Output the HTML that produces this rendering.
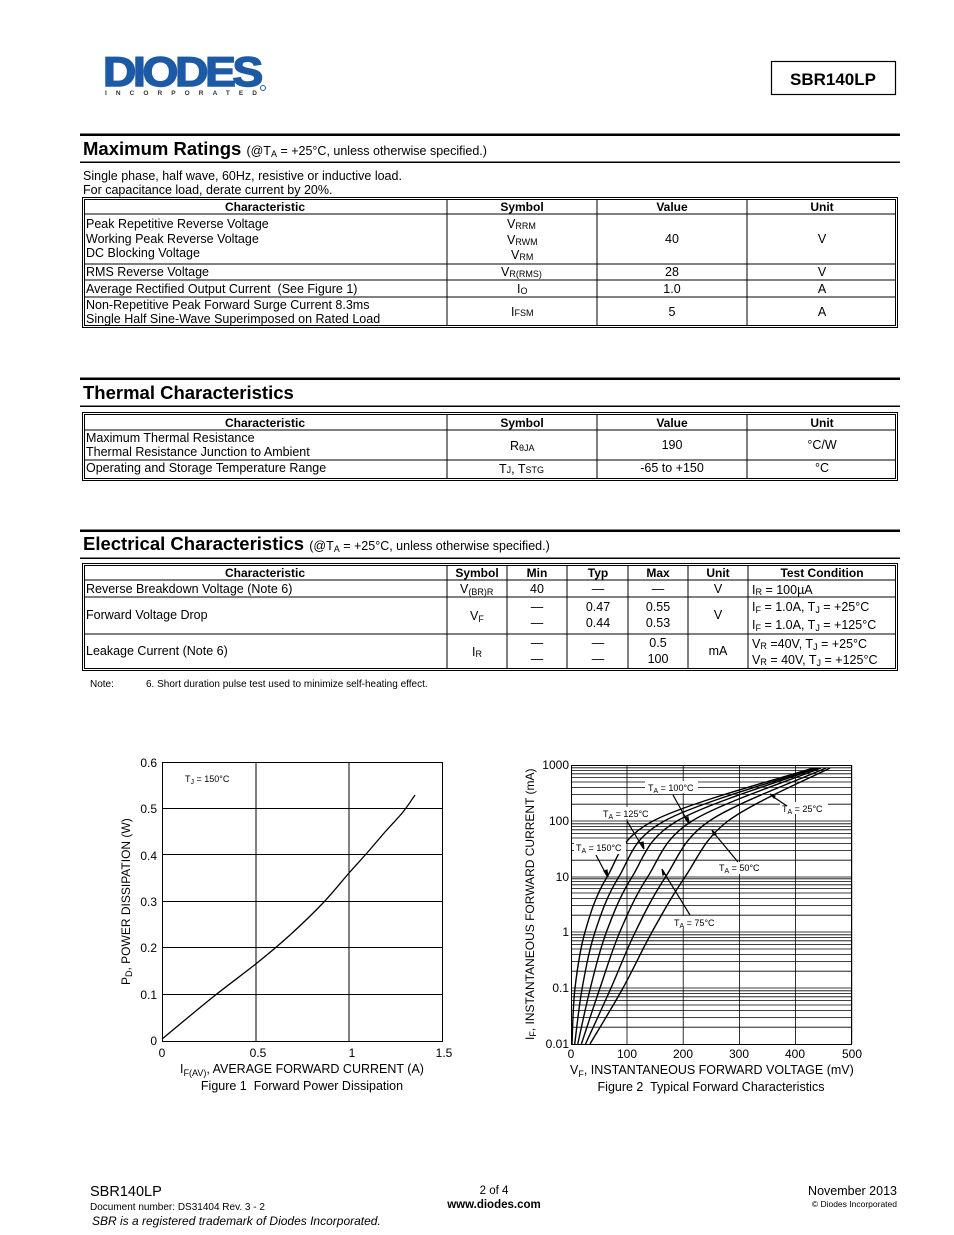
<!DOCTYPE html>
<html><head><meta charset="utf-8"><style>
html,body{margin:0;padding:0;background:#fff}
svg{display:block}
text{font-family:"Liberation Sans",Arial,sans-serif;fill:#000}
.t{font-size:12.5px}
.h{font-size:12px;font-weight:bold}
.s{font-size:9px}
</style></head><body>
<svg id="s" width="954" height="1235" viewBox="0 0 954 1235" xmlns="http://www.w3.org/2000/svg">
<!-- logo -->
<text x="103" y="86" font-size="42" font-weight="bold" style="fill:#1d5aa6;stroke:#1d5aa6;stroke-width:1.5;letter-spacing:-3px" textLength="157" lengthAdjust="spacingAndGlyphs">DIODES</text>
<text x="105" y="95" font-size="6.5" font-weight="bold" style="fill:#333" textLength="152" lengthAdjust="spacing">INCORPORATED</text>
<circle cx="263" cy="88" r="2.5" fill="none" stroke="#1d5aa6" stroke-width="1"/>
<rect x="771.5" y="61.5" width="124" height="33" fill="none" stroke="#000" stroke-width="1.2"/>
<text x="833" y="85" font-size="17" font-weight="bold" text-anchor="middle">SBR140LP</text>

<!-- Max ratings -->
<rect x="80" y="133.5" width="820" height="2.5"/>
<text x="83" y="155" font-size="18.5" font-weight="bold">Maximum Ratings <tspan font-size="12.5" font-weight="normal">(@T<tspan font-size="9" dy="2">A</tspan><tspan dy="-2"> = +25°C, unless otherwise specified.)</tspan></tspan></text>
<rect x="80" y="161.5" width="820" height="1.5"/>
<text class="t" x="83" y="180">Single phase, half wave, 60Hz, resistive or inductive load.</text>
<text class="t" x="83" y="194">For capacitance load, derate current by 20%.</text>
<g fill="none" stroke="#000">
<rect x="82.5" y="197.5" width="815" height="130" stroke-width="1"/>
<rect x="84.5" y="199.5" width="811" height="126" stroke-width="1"/>
<path d="M447 199V326M597 199V326M747 199V326M84 214H896M84 264H896M84 280H896M84 297H896" stroke-width="1"/>
</g>
<text class="h" x="265" y="211" text-anchor="middle">Characteristic</text>
<text class="h" x="522" y="211" text-anchor="middle">Symbol</text>
<text class="h" x="672" y="211" text-anchor="middle">Value</text>
<text class="h" x="822" y="211" text-anchor="middle">Unit</text>
<text class="t" x="86" y="228">Peak Repetitive Reverse Voltage</text>
<text class="t" x="86" y="243">Working Peak Reverse Voltage</text>
<text class="t" x="86" y="257">DC Blocking Voltage</text>
<text class="t" x="507" y="228">V<tspan class="s" dy="1">RRM</tspan></text>
<text class="t" x="507" y="244">V<tspan class="s" dy="1">RWM</tspan></text>
<text class="t" x="511" y="259">V<tspan class="s" dy="1">RM</tspan></text>
<text class="t" x="672" y="243" text-anchor="middle">40</text>
<text class="t" x="822" y="243" text-anchor="middle">V</text>
<text class="t" x="86" y="276">RMS Reverse Voltage</text>
<text class="t" x="501" y="276">V<tspan class="s" dy="1">R(RMS)</tspan></text>
<text class="t" x="672" y="276" text-anchor="middle">28</text>
<text class="t" x="822" y="276" text-anchor="middle">V</text>
<text class="t" x="86" y="293" xml:space="preserve">Average Rectified Output Current  (See Figure 1)</text>
<text class="t" x="517" y="293">I<tspan class="s" dy="1">O</tspan></text>
<text class="t" x="672" y="293" text-anchor="middle">1.0</text>
<text class="t" x="822" y="293" text-anchor="middle">A</text>
<text class="t" x="86" y="309">Non-Repetitive Peak Forward Surge Current 8.3ms</text>
<text class="t" x="86" y="323">Single Half Sine-Wave Superimposed on Rated Load</text>
<text class="t" x="511" y="316">I<tspan class="s">FSM</tspan></text>
<text class="t" x="672" y="316" text-anchor="middle">5</text>
<text class="t" x="822" y="316" text-anchor="middle">A</text>

<!-- Thermal -->
<rect x="80" y="377.5" width="820" height="2.5"/>
<text x="83" y="399" font-size="18.5" font-weight="bold">Thermal Characteristics</text>
<rect x="80" y="405.5" width="820" height="1.5"/>
<g fill="none" stroke="#000">
<rect x="82.5" y="412.5" width="815" height="68"/>
<rect x="84.5" y="414.5" width="811" height="64"/>
<path d="M447 414V479M597 414V479M747 414V479M84 430H896M84 460H896"/>
</g>
<text class="h" x="265" y="427" text-anchor="middle">Characteristic</text>
<text class="h" x="522" y="427" text-anchor="middle">Symbol</text>
<text class="h" x="672" y="427" text-anchor="middle">Value</text>
<text class="h" x="822" y="427" text-anchor="middle">Unit</text>
<text class="t" x="86" y="442">Maximum Thermal Resistance</text>
<text class="t" x="86" y="456">Thermal Resistance Junction to Ambient</text>
<text class="t" x="510" y="450">R<tspan class="s" dy="1">θJA</tspan></text>
<text class="t" x="672" y="449" text-anchor="middle">190</text>
<text class="t" x="822" y="449" text-anchor="middle">°C/W</text>
<text class="t" x="86" y="472">Operating and Storage Temperature Range</text>
<text class="t" x="499" y="473">T<tspan class="s" dy="0">J</tspan>, T<tspan class="s">STG</tspan></text>
<text class="t" x="672" y="472" text-anchor="middle">-65 to +150</text>
<text class="t" x="822" y="472" text-anchor="middle">°C</text>

<!-- Electrical -->
<rect x="80" y="529.5" width="820" height="2.5"/>
<text x="83" y="550" font-size="18.5" font-weight="bold">Electrical Characteristics <tspan font-size="12.5" font-weight="normal">(@T<tspan font-size="9" dy="2">A</tspan><tspan dy="-2"> = +25°C, unless otherwise specified.)</tspan></tspan></text>
<rect x="80" y="557.5" width="820" height="1.5"/>
<g fill="none" stroke="#000">
<rect x="82.5" y="563.5" width="815" height="107"/>
<rect x="84.5" y="565.5" width="811" height="103"/>
<path d="M447 565V669M507 565V669M567 565V669M628 565V669M688 565V669M748 565V669M84 580H896M84 597H896M84 634H896"/>
</g>
<text class="h" x="265" y="577" text-anchor="middle">Characteristic</text>
<text class="h" x="477" y="577" text-anchor="middle">Symbol</text>
<text class="h" x="537" y="577" text-anchor="middle">Min</text>
<text class="h" x="598" y="577" text-anchor="middle">Typ</text>
<text class="h" x="658" y="577" text-anchor="middle">Max</text>
<text class="h" x="718" y="577" text-anchor="middle">Unit</text>
<text class="h" x="822" y="577" text-anchor="middle">Test Condition</text>
<text class="t" x="86" y="593">Reverse Breakdown Voltage (Note 6)</text>
<text class="t" x="460" y="593">V<tspan class="s" dy="2">(BR)R</tspan></text>
<text class="t" x="537" y="593" text-anchor="middle">40</text>
<text class="t" x="598" y="593" text-anchor="middle">—</text>
<text class="t" x="658" y="593" text-anchor="middle">—</text>
<text class="t" x="718" y="593" text-anchor="middle">V</text>
<text class="t" x="752" y="594">I<tspan class="s" dy="1">R</tspan><tspan dy="-1"> = 100µA</tspan></text>
<text class="t" x="86" y="619">Forward Voltage Drop</text>
<text class="t" x="470" y="620">V<tspan class="s" dy="2">F</tspan></text>
<text class="t" x="537" y="611" text-anchor="middle">—</text>
<text class="t" x="537" y="627" text-anchor="middle">—</text>
<text class="t" x="598" y="611" text-anchor="middle">0.47</text>
<text class="t" x="598" y="627" text-anchor="middle">0.44</text>
<text class="t" x="658" y="611" text-anchor="middle">0.55</text>
<text class="t" x="658" y="627" text-anchor="middle">0.53</text>
<text class="t" x="718" y="619" text-anchor="middle">V</text>
<text class="t" x="752" y="611">I<tspan class="s" dy="2">F</tspan><tspan dy="-2"> = 1.0A, T</tspan><tspan class="s" dy="2">J</tspan><tspan dy="-2"> = +25°C</tspan></text>
<text class="t" x="752" y="629">I<tspan class="s" dy="2">F</tspan><tspan dy="-2"> = 1.0A, T</tspan><tspan class="s" dy="2">J</tspan><tspan dy="-2"> = +125°C</tspan></text>
<text class="t" x="86" y="655">Leakage Current (Note 6)</text>
<text class="t" x="472" y="656">I<tspan class="s" dy="1">R</tspan></text>
<text class="t" x="537" y="647" text-anchor="middle">—</text>
<text class="t" x="537" y="663" text-anchor="middle">—</text>
<text class="t" x="598" y="647" text-anchor="middle">—</text>
<text class="t" x="598" y="663" text-anchor="middle">—</text>
<text class="t" x="658" y="647" text-anchor="middle">0.5</text>
<text class="t" x="658" y="663" text-anchor="middle">100</text>
<text class="t" x="718" y="655" text-anchor="middle">mA</text>
<text class="t" x="752" y="648">V<tspan class="s" dy="1">R</tspan><tspan dy="-1"> =40V, T</tspan><tspan class="s" dy="2">J</tspan><tspan dy="-2"> = +25°C</tspan></text>
<text class="t" x="752" y="664">V<tspan class="s" dy="1">R</tspan><tspan dy="-1"> = 40V, T</tspan><tspan class="s" dy="2">J</tspan><tspan dy="-2"> = +125°C</tspan></text>
<text x="90" y="687" font-size="10">Note:</text>
<text x="146" y="687" font-size="10">6. Short duration pulse test used to minimize self-heating effect.</text>

<!-- Figure 1 -->
<g id="g1" fill="none" stroke="#000" stroke-width="1">
<rect x="162.5" y="762.5" width="280" height="279"/>
<path d="M256 762V1041M349 762V1041M162 808.5H442M162 854.5H442M162 901.5H442M162 947.5H442M162 994.5H442"/>
</g>
<text x="185" y="782" font-size="9">T<tspan font-size="7" dy="2">J</tspan><tspan dy="-2"> = 150°C</tspan></text>
<g font-size="12" text-anchor="end">
<text x="157" y="767">0.6</text><text x="157" y="813">0.5</text><text x="157" y="860">0.4</text><text x="157" y="906">0.3</text><text x="157" y="952">0.2</text><text x="157" y="999">0.1</text><text x="157" y="1045">0</text>
</g>
<g font-size="12" text-anchor="middle">
<text x="162" y="1057">0</text><text x="258" y="1057">0.5</text><text x="352" y="1057">1</text><text x="444" y="1057">1.5</text>
</g>
<text x="130" y="985" font-size="12" transform="rotate(-90 130 985)">P<tspan font-size="9" dy="2">D</tspan><tspan dy="-2">, POWER DISSIPATION (W)</tspan></text>
<text x="180" y="1073" font-size="12.5">I<tspan font-size="9" dy="3">F(AV)</tspan><tspan dy="-3">, AVERAGE FORWARD CURRENT (A)</tspan></text>
<text x="302" y="1090" font-size="12.5" text-anchor="middle" xml:space="preserve">Figure 1  Forward Power Dissipation</text>

<!-- Figure 2 -->
<g id="g2" fill="none" stroke="#000" stroke-width="1"></g>
<rect x="571.5" y="765.5" width="280" height="279" fill="none" stroke="#000"/>
<g font-size="12" text-anchor="end">
<text x="569" y="769">1000</text><text x="569" y="825">100</text><text x="569" y="881">10</text><text x="569" y="936">1</text><text x="569" y="992">0.1</text><text x="569" y="1048">0.01</text>
</g>
<g font-size="12" text-anchor="middle">
<text x="571" y="1058">0</text><text x="627" y="1058">100</text><text x="683" y="1058">200</text><text x="739" y="1058">300</text><text x="795" y="1058">400</text><text x="852" y="1058">500</text>
</g>
<text x="534" y="1040" font-size="12" transform="rotate(-90 534 1040)">I<tspan font-size="9" dy="2">F</tspan><tspan dy="-2">, INSTANTANEOUS FORWARD CURRENT (mA)</tspan></text>
<text x="570" y="1074" font-size="12.5">V<tspan font-size="9" dy="3">F</tspan><tspan dy="-3">, INSTANTANEOUS FORWARD VOLTAGE (mV)</tspan></text>
<text x="711" y="1091" font-size="12.5" text-anchor="middle" xml:space="preserve">Figure 2  Typical Forward Characteristics</text>
<g font-size="9">
<rect x="645" y="781" width="53" height="12" fill="#fff"/><text x="648" y="791">T<tspan font-size="7" dy="2">A</tspan><tspan dy="-2"> = 100°C</tspan></text>
<rect x="601" y="807" width="52" height="12" fill="#fff"/><text x="603" y="817">T<tspan font-size="7" dy="2">A</tspan><tspan dy="-2"> = 125°C</tspan></text>
<rect x="574" y="842" width="52" height="12" fill="#fff"/><text x="576" y="851">T<tspan font-size="7" dy="2">A</tspan><tspan dy="-2"> = 150°C</tspan></text>
<rect x="780" y="802" width="48" height="12" fill="#fff"/><text x="782" y="812">T<tspan font-size="7" dy="2">A</tspan><tspan dy="-2"> = 25°C</tspan></text>
<rect x="717" y="862" width="48" height="12" fill="#fff"/><text x="719" y="871">T<tspan font-size="7" dy="2">A</tspan><tspan dy="-2"> = 50°C</tspan></text>
<rect x="672" y="916" width="48" height="12" fill="#fff"/><text x="674" y="926">T<tspan font-size="7" dy="2">A</tspan><tspan dy="-2"> = 75°C</tspan></text>
</g>
<g stroke="#000" stroke-width="1.2" fill="#000">
<path d="M673 795L688 822"/><path d="M685 818l4 6 -1-7z"/>
<path d="M627 821L643 848"/><path d="M640 843l4 6 -1-7z"/>
<path d="M596 855L607 876"/><path d="M604 871l4 6 -1-7z"/>
<path d="M787 806L772 796"/><path d="M775 796l-5-2 4 4z"/>
<path d="M738 862L713 832"/><path d="M716 834l-4-4 2 5z"/>
<path d="M690 915L663 871"/><path d="M665 874l-3-5 1 6z"/>
</g>

<!-- footer -->
<text x="90" y="1196" font-size="14.5">SBR140LP</text>
<text x="90" y="1210" font-size="10">Document number: DS31404 Rev. 3 - 2</text>
<text x="92" y="1225" font-size="12" font-style="italic">SBR is a registered trademark of Diodes Incorporated.</text>
<text x="494" y="1194" font-size="11.5" text-anchor="middle">2 of 4</text>
<text x="494" y="1208" font-size="11.5" font-weight="bold" text-anchor="middle">www.diodes.com</text>
<text x="897" y="1195" font-size="12.5" text-anchor="end">November 2013</text>
<text x="897" y="1207" font-size="8.5" text-anchor="end">© Diodes Incorporated</text>
</svg>
<script>
(function(){
var ns='http://www.w3.org/2000/svg';
function cr(pts){
 var s='M'+pts[0][0]+' '+pts[0][1],n=pts.length;
 for(var i=0;i<n-1;i++){var p0=pts[Math.max(i-1,0)],p1=pts[i],p2=pts[i+1],p3=pts[Math.min(i+2,n-1)];
  s+=' C'+(p1[0]+(p2[0]-p0[0])/6).toFixed(1)+' '+(p1[1]+(p2[1]-p0[1])/6).toFixed(1)+' '+(p2[0]-(p3[0]-p1[0])/6).toFixed(1)+' '+(p2[1]-(p3[1]-p1[1])/6).toFixed(1)+' '+p2[0].toFixed(1)+' '+p2[1];}
 return s;}
var g1=document.getElementById('g1');
var c1=document.createElementNS(ns,'path');
c1.setAttribute('d',cr([[162,1039],[213,997],[257,963],[290,935],[323,903],[349,873],[367,853],[385,832],[403,812],[415,795]]));
c1.setAttribute('stroke-width','1.3');g1.appendChild(c1);
var g=document.getElementById('g2'),d='';
var bot=[1044,988,932,877,821],dec=55.8;
for(var i=0;i<5;i++){for(var k=2;k<=9;k++){var y=bot[i]-dec*Math.log10(k);d+='M571 '+y.toFixed(1)+'H852';}}
d+='M571 988H852M571 932H852M571 877H852M571 821H852';
for(var x=627;x<852;x+=56.2)d+='M'+x.toFixed(1)+' 765V1044';
var p=document.createElementNS(ns,'path');p.setAttribute('d',d);p.setAttribute('stroke-width','0.8');g.appendChild(p);
var ys=[1044,988,932,877,821,768];
var a=[572,575,585,607,653,813],b=[590,623,652,685,728,830];
var fr=[0,0.15,0.32,0.52,0.75,1];
var tops=[813,816,818,821,826,830];
fr.forEach(function(f,j){
 var pts=[];for(var i=0;i<6;i++){var x=a[i]+(b[i]-a[i])*f;if(i==5)x=tops[j];pts.push([x,ys[i]]);}
 var c=document.createElementNS(ns,'path');c.setAttribute('d',cr(pts));c.setAttribute('stroke-width','1.4');g.appendChild(c);
});
})();
</script>
</body></html>
